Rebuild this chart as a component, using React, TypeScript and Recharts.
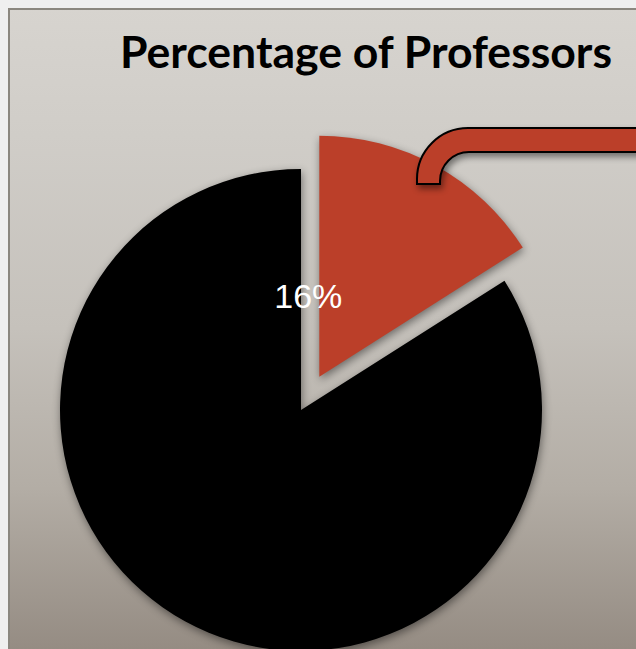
import { PieChart, Pie, Cell } from 'recharts';

const categories = ['Professors', 'Others'];
const values = [16, 84];
const colors = ['#bb3f29', '#000000'];
const title = 'Percentage of Professors';

const data = categories.map((name, i) => ({ name, value: values[i] }));
const total = values.reduce((s, v) => s + v, 0);

const W = 628;
const H = 641;
const CX = 293;
const CY = 402;
const R = 241;
const EXPLODE = 38;

// mid angle of the first slice, measured clockwise from 12 o'clock
const midDeg = ((values[0] / total) * 360) / 2;
const midRad = (midDeg * Math.PI) / 180;
const exCx = CX + EXPLODE * Math.sin(midRad);
const exCy = CY - EXPLODE * Math.cos(midRad);

const shadow = 'drop-shadow(1px 3px 4px rgba(0,0,0,0.45))';

function renderLabel(props: any) {
  if (props.index !== 0) return null;
  return (
    <text
      x={props.cx - 11}
      y={props.cy - 81}
      fill="#ffffff"
      textAnchor="middle"
      dominantBaseline="central"
      fontFamily="'Liberation Sans', Arial, sans-serif"
      fontSize={34}
    >
      {`${Math.round(props.percent * 100)}%`}
    </text>
  );
}

export default function App() {
  return (
    <>
      <div style={{ position: 'fixed', inset: 0, background: '#efefef' }} />
      <div
        style={{
          position: 'fixed',
          left: 8,
          top: 8,
          width: W,
          height: H,
          overflow: 'hidden',
          background:
            'linear-gradient(to bottom, #d7d4cf 0%, #d0cdc8 20%, #c5c1bb 50%, #b3ada5 75%, #958c83 100%)',
          boxShadow: 'inset 2px 2px 0 #8b877f',
        }}
      >
        <div style={{ position: 'absolute', left: 0, top: 0 }}>
          <PieChart width={W} height={H} margin={{ top: 0, right: 0, bottom: 0, left: 0 }}>
            <Pie
              data={data}
              dataKey="value"
              nameKey="name"
              cx={CX}
              cy={CY}
              outerRadius={R}
              startAngle={90}
              endAngle={-270}
              stroke="none"
              isAnimationActive={false}
            >
              {data.map((d, i) => (
                <Cell
                  key={d.name}
                  fill={i === 0 ? 'transparent' : colors[i]}
                  style={i === 0 ? undefined : { filter: shadow }}
                />
              ))}
            </Pie>
            <Pie
              data={data}
              dataKey="value"
              nameKey="name"
              cx={exCx}
              cy={exCy}
              outerRadius={R}
              startAngle={90}
              endAngle={-270}
              stroke="none"
              labelLine={false}
              label={renderLabel}
              isAnimationActive={false}
            >
              {data.map((d, i) => (
                <Cell
                  key={d.name}
                  fill={i === 0 ? colors[i] : 'transparent'}
                  style={i === 0 ? { filter: shadow } : undefined}
                />
              ))}
            </Pie>
          </PieChart>
        </div>
        <svg
          width={W}
          height={H}
          style={{ position: 'absolute', left: 0, top: 0, pointerEvents: 'none' }}
        >
          <text
            x={112}
            y={60}
            textLength={492}
            lengthAdjust="spacingAndGlyphs"
            fontFamily="Lato, 'Open Sans', sans-serif"
            fontWeight={700}
            fontSize={43}
            fill="#000"
          >
            {title}
          </text>
          <path
            d="M409,176 L409,171 A51,51 0 0 1 460,120 L660,120 L660,144 L461,144 A29,29 0 0 0 432,173 L432,176 Z"
            fill="#bb3f29"
            stroke="#000"
            strokeWidth={2}
            style={{ filter: 'drop-shadow(2px 4px 3px rgba(0,0,0,0.45))' }}
          />
        </svg>
      </div>
    </>
  );
}
